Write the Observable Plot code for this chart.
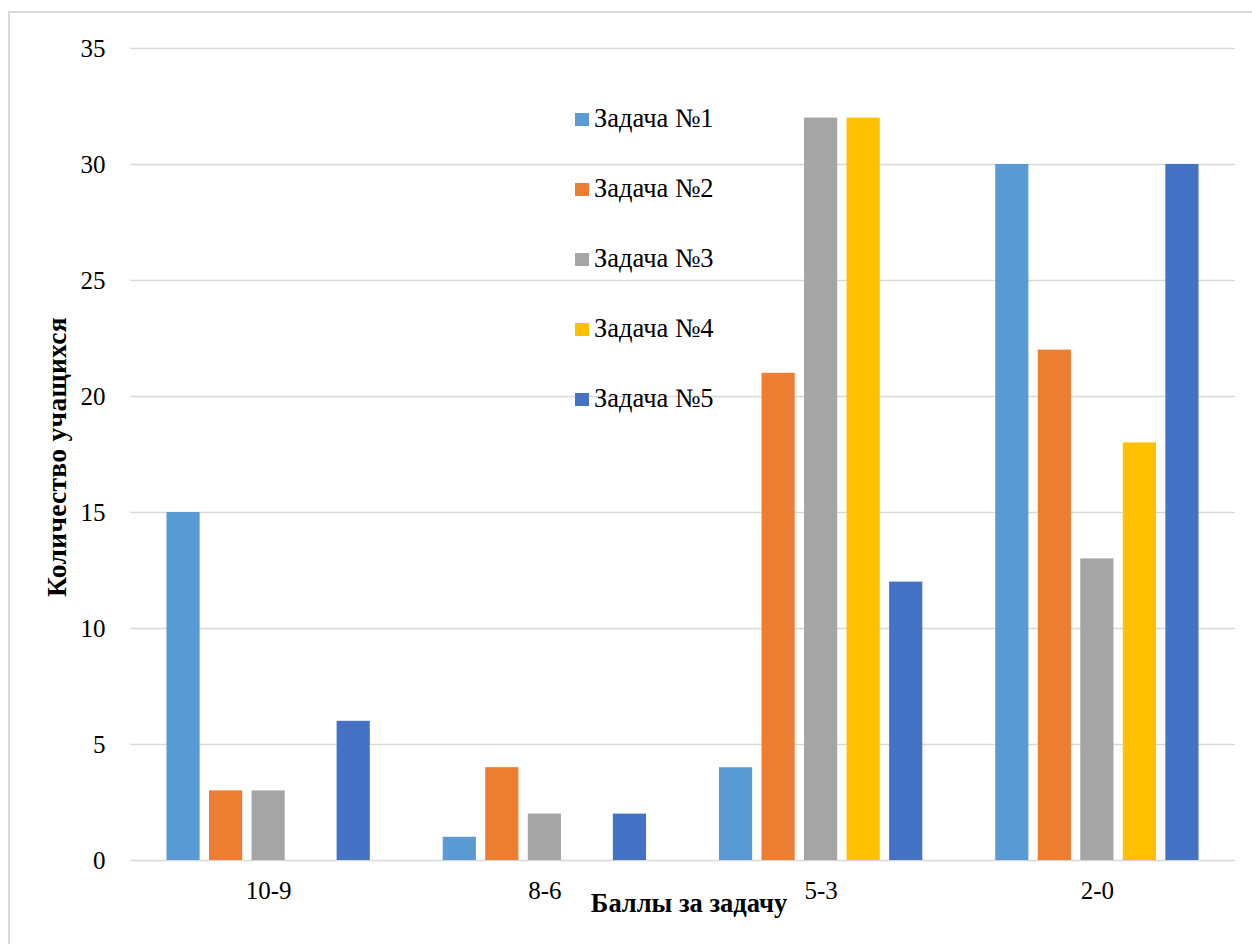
<!DOCTYPE html>
<html lang="ru">
<head>
<meta charset="utf-8">
<script src="https://cdn.jsdelivr.net/npm/d3@7"></script>
<script src="https://cdn.jsdelivr.net/npm/@observablehq/plot@0.6"></script>
<style>
  html, body { margin: 0; padding: 0; background: #fff; }
  body { width: 1252px; height: 944px; position: relative; overflow: hidden;
         font-family: "Liberation Serif", "Times New Roman", serif; }
  #frame { position: absolute; left: 8px; top: 11px; width: 1400px; height: 1100px;
           border-left: 2px solid #d9d9d9; border-top: 2px solid #d9d9d9; }
  #chart { position: absolute; left: 0; top: 0; }
  .axis-title { position: absolute; font-weight: bold; color: #000; white-space: nowrap;
                font-family: "Liberation Serif", "Times New Roman", serif; }
  #ytitle { left: 57px; top: 457px; font-size: 27.5px; letter-spacing: 0.3px;
            transform: translate(-50%, -50%) rotate(-90deg); }
  #xtitle { left: 689px; top: 903px; font-size: 26.5px; transform: translate(-50%, -50%); }
  #legend { position: absolute; left: 575px; top: 103px;
            font-family: "Liberation Serif", "Times New Roman", serif; }
  .item { height: 70px; display: flex; align-items: flex-start; font-size: 26.5px; color: #000; }
  .swatch { width: 14px; height: 13px; margin-top: 10px; margin-right: 5px; flex: none; }
</style>
</head>
<body>
<div id="frame"></div>
<div id="chart"></div>
<div class="axis-title" id="ytitle">Количество учащихся</div>
<div class="axis-title" id="xtitle">Баллы за задачу</div>
<div id="legend"></div>
<script>
// Score ranges (groups along the horizontal axis)
const categories = ["10-9", "8-6", "5-3", "2-0"];
// One series per task
const series = ["Задача №1", "Задача №2", "Задача №3", "Задача №4", "Задача №5"];
// Number of students per score range, for each task
const task1 = [15, 1, 4, 30];
const task2 = [3, 4, 21, 22];
const task3 = [3, 2, 32, 13];
const task4 = [0, 0, 32, 18];
const task5 = [6, 2, 12, 30];
const colors = ["#5b9bd5", "#ed7d31", "#a5a5a5", "#ffc000", "#4472c4"];
const yTicks = [0, 5, 10, 15, 20, 25, 30, 35];

const values = [task1, task2, task3, task4, task5];
const rows = [];
series.forEach((s, i) => {
  categories.forEach((c, j) => {
    rows.push({category: c, task: s, count: values[i][j]});
  });
});

const chart = Plot.plot({
  width: 1252,
  height: 944,
  marginLeft: 130,
  marginRight: 17,
  marginTop: 48,
  marginBottom: 84,
  style: {fontFamily: "Liberation Serif, Times New Roman, serif", fontSize: "25px", color: "#000", background: "transparent"},
  fx: {domain: categories, padding: 0, round: false, label: null},
  x: {domain: series, paddingInner: 0.22, paddingOuter: 0.857, round: false, axis: null},
  y: {domain: [0, 35], label: null},
  color: {domain: series, range: colors},
  marks: [
    Plot.gridY(yTicks, {stroke: "#d9d9d9", strokeOpacity: 1, strokeWidth: 1.5}),
    Plot.barY(rows.filter(d => d.count > 0), {
      fx: "category", x: "task", y: "count", fill: "task"
    }),
    Plot.axisY(yTicks, {tickSize: 0, tickPadding: 25, label: null, fontSize: 25}),
    Plot.axisFx({anchor: "bottom", tickSize: 0, tickPadding: 21, label: null, fontSize: 25})
  ]
});
document.getElementById("chart").appendChild(chart);

// Legend listing the tasks with their colours
const legend = document.getElementById("legend");
series.forEach((s, i) => {
  const item = document.createElement("div");
  item.className = "item";
  const sw = document.createElement("span");
  sw.className = "swatch";
  sw.style.background = colors[i];
  const label = document.createElement("span");
  label.textContent = s;
  item.appendChild(sw);
  item.appendChild(label);
  legend.appendChild(item);
});
</script>
</body>
</html>
